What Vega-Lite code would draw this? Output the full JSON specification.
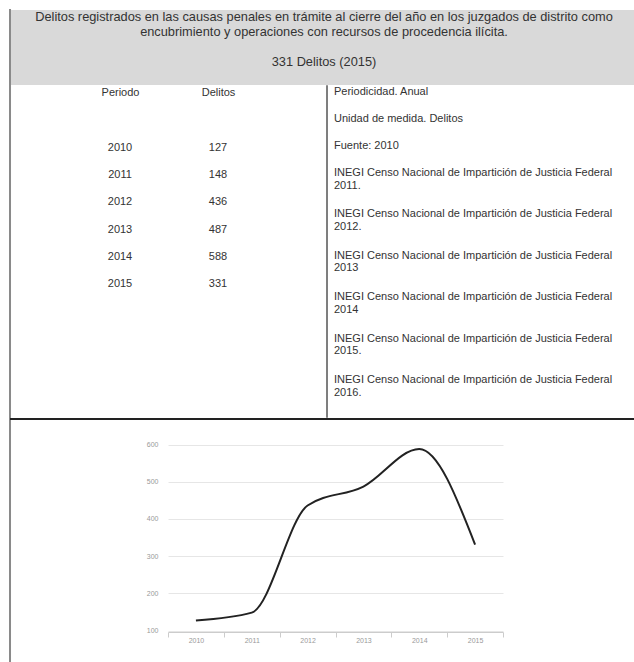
{
  "$schema": "https://vega.github.io/schema/vega-lite/v6.json",
  "padding": {"left": 9, "top": 9, "right": 0, "bottom": 0},
  "background": "white",
  "config": {
    "font": "Liberation Sans",
    "view": {"stroke": null},
    "concat": {"spacing": 0}
  },
  "datasets": {
    "serie": [
      {"periodo": "2010", "delitos": 127},
      {"periodo": "2011", "delitos": 148},
      {"periodo": "2012", "delitos": 436},
      {"periodo": "2013", "delitos": 487},
      {"periodo": "2014", "delitos": 588},
      {"periodo": "2015", "delitos": 331}
    ],
    "encabezado": [
      {"orden": "descripcion", "texto": "Delitos registrados en las causas penales en trámite al cierre del año en los juzgados de distrito como\nencubrimiento y operaciones con recursos de procedencia ilícita."},
      {"orden": "total", "texto": "331 Delitos (2015)"}
    ],
    "metadatos": [
      {"texto": "Periodicidad. Anual"},
      {"texto": "Unidad de medida. Delitos"},
      {"texto": "Fuente: 2010"}
    ],
    "fuentes": [
      {"edicion": "2011", "texto": "INEGI Censo Nacional de Impartición de Justicia Federal\n2011."},
      {"edicion": "2012", "texto": "INEGI Censo Nacional de Impartición de Justicia Federal\n2012."},
      {"edicion": "2013", "texto": "INEGI Censo Nacional de Impartición de Justicia Federal\n2013"},
      {"edicion": "2014", "texto": "INEGI Censo Nacional de Impartición de Justicia Federal\n2014"},
      {"edicion": "2015", "texto": "INEGI Censo Nacional de Impartición de Justicia Federal\n2015."},
      {"edicion": "2016", "texto": "INEGI Censo Nacional de Impartición de Justicia Federal\n2016."}
    ],
    "vacio": []
  },
  "hconcat": [
    {
      "width": 0.01,
      "height": 660,
      "view": {"stroke": "#8a8a8a", "strokeWidth": 2},
      "data": {"name": "vacio"},
      "mark": {"type": "text"},
      "encoding": {}
    },
    {
      "vconcat": [
        {
          "width": 626,
          "height": 75,
          "view": {"fill": "#d9d9d9", "stroke": null},
          "data": {"name": "encabezado"},
          "mark": {"type": "text", "lineBreak": "\n", "lineHeight": 15, "baseline": "top", "align": "center", "fontSize": 12.8, "color": "#333333"},
          "encoding": {
            "text": {"field": "texto"},
            "x": {"datum": "encabezado", "type": "nominal", "scale": {"type": "point", "padding": 0}, "axis": null},
            "y": {"field": "orden", "type": "nominal", "sort": null, "scale": {"type": "point", "padding": 0, "range": [0.5, 45.5]}, "axis": null}
          }
        },
        {
          "hconcat": [
            {
              "width": 316,
              "height": 331,
              "data": {"name": "serie"},
              "encoding": {
                "y": {"field": "periodo", "type": "ordinal", "scale": {"type": "point", "padding": 0, "range": [62, 198]}, "axis": null}
              },
              "layer": [
                {
                  "mark": {"type": "text", "fontSize": 11, "color": "#333333", "align": "center", "baseline": "middle"},
                  "encoding": {
                    "x": {"datum": "Periodo", "type": "nominal", "scale": {"type": "point", "padding": 0, "domain": ["Periodo", "Delitos"], "range": [109, 207]},
                      "axis": {"orient": "top", "title": null, "domain": false, "ticks": false, "labelAngle": 0, "labelPadding": 0, "offset": -6, "labelBaseline": "middle", "labelFontSize": 11, "labelColor": "#333333", "labelFont": "Liberation Sans"}},
                    "text": {"field": "periodo"}
                  }
                },
                {
                  "mark": {"type": "text", "fontSize": 11, "color": "#333333", "align": "center", "baseline": "middle"},
                  "encoding": {
                    "x": {"datum": "Delitos", "type": "nominal"},
                    "text": {"field": "delitos"}
                  }
                }
              ]
            },
            {
              "width": 0.01,
              "height": 331,
              "view": {"stroke": "#555555", "strokeWidth": 1.5},
              "data": {"name": "vacio"},
              "mark": {"type": "text"},
              "encoding": {}
            },
            {
              "width": 310,
              "height": 331,
              "resolve": {"scale": {"y": "independent"}},
              "layer": [
                {
                  "data": {"name": "metadatos"},
                  "mark": {"type": "text", "fontSize": 11, "color": "#333333", "align": "left", "baseline": "middle", "dx": 6},
                  "encoding": {
                    "x": {"datum": "info", "type": "nominal", "scale": {"type": "point", "align": 0, "padding": 0}, "axis": null},
                    "y": {"field": "texto", "type": "nominal", "sort": null, "scale": {"type": "point", "padding": 0, "range": [6, 60]}, "axis": null},
                    "text": {"field": "texto"}
                  }
                },
                {
                  "data": {"name": "fuentes"},
                  "mark": {"type": "text", "fontSize": 11, "color": "#333333", "align": "left", "baseline": "top", "lineBreak": "\n", "lineHeight": 12.5, "dx": 6},
                  "encoding": {
                    "x": {"datum": "info", "type": "nominal"},
                    "y": {"field": "edicion", "type": "ordinal", "scale": {"type": "point", "padding": 0, "range": [81, 288]}, "axis": null},
                    "text": {"field": "texto"}
                  }
                }
              ]
            }
          ],
          "bounds": "flush"
        },
        {
          "width": 626,
          "height": 0.01,
          "view": {"stroke": "#222222", "strokeWidth": 2},
          "data": {"name": "vacio"},
          "mark": {"type": "text"},
          "encoding": {}
        },
        {
          "width": 626,
          "height": 243,
          "data": {"name": "serie"},
          "mark": {"type": "line", "interpolate": "monotone", "color": "#222222", "strokeWidth": 2},
          "encoding": {
            "x": {"field": "periodo", "type": "ordinal", "bandPosition": 0.5,
              "scale": {"type": "band", "range": [157, 492], "paddingInner": 0, "paddingOuter": 0},
              "axis": {"title": null, "offset": -32, "labelAngle": 0, "domainColor": "#cccccc", "tickColor": "#cccccc", "tickBand": "extent", "tickSize": 5, "labelFontSize": 7, "labelColor": "#999999", "labelPadding": -1, "grid": false}},
            "y": {"field": "delitos", "type": "quantitative",
              "scale": {"domain": [100, 600], "range": [209.5, 23.5], "nice": false, "zero": false},
              "axis": {"title": null, "offset": -157, "domain": false, "ticks": false, "values": [100, 200, 300, 400, 500, 600], "gridColor": "#e6e6e6", "labelFontSize": 7, "labelColor": "#999999", "labelPadding": 10}}
          }
        }
      ]
    }
  ],
  "bounds": "flush"
}
